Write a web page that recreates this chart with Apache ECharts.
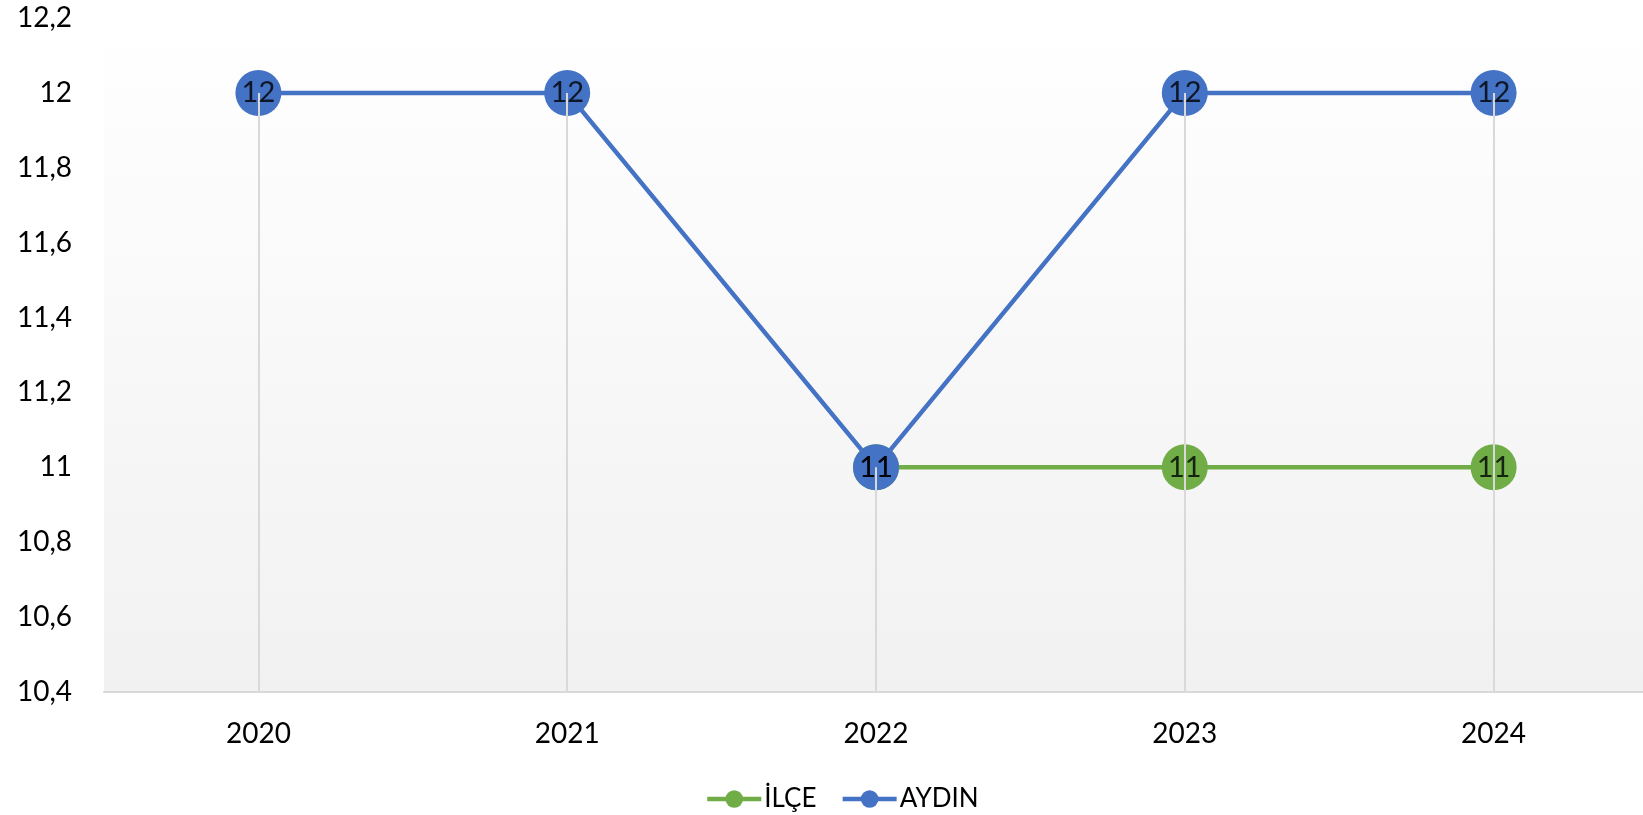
<!DOCTYPE html>
<html>
<head>
<meta charset="utf-8">
<script src="https://cdn.jsdelivr.net/npm/echarts@6/dist/echarts.min.js"></script>
<style>
html,body{margin:0;padding:0;background:#fff;}
#chart{width:1643px;height:815px;}
</style>
</head>
<body>
<div id="chart"></div>
<script>
const categories = ['2020', '2021', '2022', '2023', '2024'];
const ilce = [null, null, 11, 11, 11];
const aydin = [12, 12, 11, 12, 12];
const yMin = 10.4, yMax = 12.2, yStep = 0.2;

const FONT = 'Lato';
const BLUE = '#4472C4', GREEN = '#70AD47';

const maxVals = categories.map((c, i) => Math.max(...[ilce[i], aydin[i]].filter(v => v != null)));
const dropLines = categories.map((c, i) => [
  { coord: [c, maxVals[i]] },
  { coord: [c, yMin] }
]);

const chart = echarts.init(document.getElementById('chart'));
const fmt = v => String(Number(v.toFixed(1))).replace('.', ',');

function lineSeries(name, data, color) {
  return {
    name, type: 'line', data, z: 2,
    symbol: 'circle', symbolSize: 46, showAllSymbol: true,
    lineStyle: { color, width: 4.5 },
    itemStyle: { color },
    label: { show: false },
    emphasis: { disabled: true },
    animation: false
  };
}
function labelSeries(data) {
  return {
    type: 'scatter', data, z: 10, silent: true,
    symbol: 'circle', symbolSize: 1,
    itemStyle: { color: 'rgba(0,0,0,0)' },
    label: { show: true, position: 'inside', color: '#000', fontFamily: FONT, fontSize: 29,
      formatter: p => fmt(p.value) },
    tooltip: { show: false },
    animation: false
  };
}

chart.setOption({
  animation: false,
  backgroundColor: '#fff',
  grid: {
    left: 104, right: -5, top: 18, bottom: 123,
    outerBoundsMode: 'none', containLabel: false,
    show: true, borderWidth: 0,
    backgroundColor: new echarts.graphic.LinearGradient(0, 0, 0, 1, [
      { offset: 0, color: '#ffffff' },
      { offset: 1, color: '#f1f1f1' }
    ])
  },
  legend: {
    data: [{ name: 'İLÇE' }, { name: 'AYDIN' }],
    left: 700, top: 781,
    itemWidth: 54, itemHeight: 22, itemGap: 24,
    lineStyle: { width: 4.5 },
    textStyle: { fontFamily: FONT, fontSize: 26, color: '#000', padding: [0, 0, 0, -2] }
  },
  xAxis: {
    type: 'category', data: categories, boundaryGap: true,
    axisLine: { show: true, lineStyle: { color: '#d9d9d9', width: 2 } },
    axisTick: { show: false },
    splitLine: { show: false },
    axisLabel: { color: '#000', fontFamily: FONT, fontSize: 28, margin: 28 }
  },
  yAxis: {
    type: 'value', min: yMin, max: yMax, interval: yStep,
    axisLine: { show: false }, axisTick: { show: false },
    splitLine: { show: false },
    axisLabel: { color: '#000', fontFamily: FONT, fontSize: 28, margin: 32, formatter: fmt }
  },
  series: [
    Object.assign(lineSeries('İLÇE', ilce, GREEN), {
      markLine: {
        silent: true, symbol: ['none', 'none'], z: 5,
        label: { show: false },
        lineStyle: { color: '#d9d9d9', width: 2, type: 'solid' },
        emphasis: { disabled: true },
        animation: false,
        data: dropLines
      }
    }),
    lineSeries('AYDIN', aydin, BLUE),
    labelSeries(ilce),
    labelSeries(aydin)
  ]
});
</script>
</body>
</html>
